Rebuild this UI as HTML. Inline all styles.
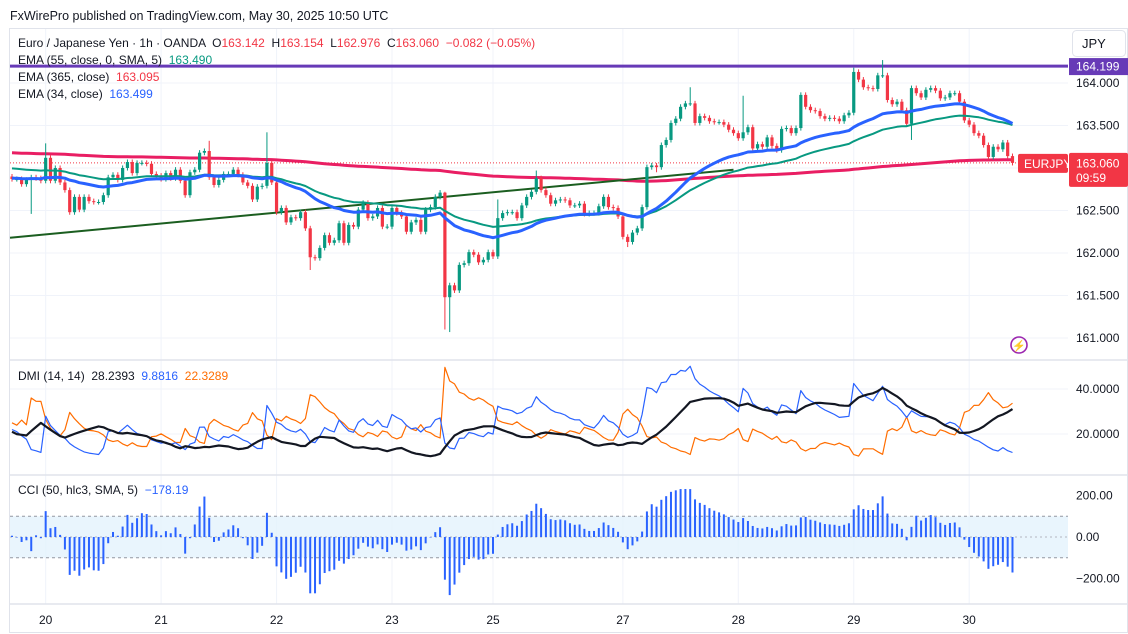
<!DOCTYPE html>
<html><head><meta charset="utf-8">
<style>
html,body{margin:0;padding:0;background:#fff;}
svg{display:block;font-family:"Liberation Sans",Arial,sans-serif;}
text{white-space:pre;}
</style></head>
<body>
<svg id="chart" width="1128" height="634" viewBox="0 0 1128 634" xmlns="http://www.w3.org/2000/svg" xml:space="preserve">
  <rect x="0" y="0" width="1128" height="634" fill="#ffffff"/>
  <text x="10" y="20" font-size="12.5" fill="#131722">FxWirePro published on TradingView.com, May 30, 2025 10:50 UTC</text>
  <rect x="9.5" y="28.5" width="1118" height="604" fill="none" stroke="#e0e3eb"/>
  <g id="grid"></g>
  <g id="main"></g>
  <g id="dmi"></g>
  <g id="cci"></g>
  <g id="axes"></g>

  <g font-size="12">
    <text x="18" y="47" fill="#131722">Euro / Japanese Yen · 1h · OANDA  O<tspan fill="#f23645">163.142</tspan>  H<tspan fill="#f23645">163.154</tspan>  L<tspan fill="#f23645">162.976</tspan>  C<tspan fill="#f23645">163.060</tspan>  <tspan fill="#f23645">−0.082 (−0.05%)</tspan></text>
    <text x="18" y="64" fill="#131722">EMA (55, close, 0, SMA, 5)  <tspan fill="#089981">163.490</tspan></text>
    <text x="18" y="81" fill="#131722">EMA (365, close)  <tspan fill="#f23645">163.095</tspan></text>
    <text x="18" y="98" fill="#131722">EMA (34, close)  <tspan fill="#2962ff">163.499</tspan></text>
    <text x="18" y="380" fill="#131722">DMI (14, 14)  28.2393  <tspan fill="#2962ff">9.8816</tspan>  <tspan fill="#ff6d00">22.3289</tspan></text>
    <text x="18" y="494" fill="#131722">CCI (50, hlc3, SMA, 5)  <tspan fill="#2962ff">−178.19</tspan></text>
  </g>

  <g>
    <rect x="1072.5" y="30.5" width="53" height="26" rx="4" fill="#fff" stroke="#e0e3eb"/>
    <text x="1082" y="48" font-size="13" fill="#131722">JPY</text>
  </g>
  <g>
    <circle cx="1019" cy="345" r="8" fill="none" stroke="#9c27b0" stroke-width="1.6"/>
    <text x="1019" y="349.5" font-size="11" fill="#e91e63" text-anchor="middle">⚡</text>
  </g>
</svg>
<script>
const closes=[162.87,162.87,162.81,162.86,162.89,162.88,162.85,163.12,162.85,163.00,162.83,162.74,162.48,162.66,162.51,162.66,162.61,162.60,162.60,162.68,162.89,162.92,162.86,163.00,163.07,162.94,163.06,163.06,163.05,162.93,162.91,162.87,162.94,162.88,162.98,162.85,162.68,162.95,162.98,163.18,163.20,162.89,162.80,162.86,162.93,162.93,162.98,162.92,162.83,162.79,162.63,162.78,162.79,163.06,162.83,162.48,162.53,162.36,162.42,162.41,162.48,162.29,161.95,161.94,162.06,162.21,162.12,162.15,162.35,162.12,162.33,162.31,162.51,162.59,162.41,162.43,162.53,162.31,162.31,162.53,162.47,162.43,162.25,162.36,162.39,162.25,162.51,162.54,162.66,162.71,161.48,161.62,161.56,161.86,161.88,162.01,161.98,161.89,161.92,162.01,161.96,162.41,162.47,162.48,162.48,162.41,162.56,162.66,162.72,162.88,162.74,162.68,162.58,162.62,162.63,162.62,162.56,162.56,162.58,162.46,162.47,162.47,162.55,162.66,162.54,162.53,162.43,162.19,162.13,162.24,162.29,162.54,163.01,163.03,163.01,163.27,163.33,163.53,163.58,163.72,163.76,163.76,163.53,163.61,163.59,163.55,163.54,163.54,163.51,163.45,163.41,163.35,163.42,163.48,163.23,163.28,163.25,163.36,163.26,163.21,163.46,163.47,163.41,163.47,163.86,163.72,163.68,163.67,163.61,163.58,163.59,163.58,163.55,163.62,163.65,164.13,164.04,163.95,163.94,163.93,164.09,164.09,163.80,163.75,163.78,163.68,163.52,163.94,163.88,163.83,163.92,163.94,163.91,163.82,163.83,163.88,163.88,163.78,163.56,163.51,163.41,163.38,163.27,163.13,163.25,163.22,163.30,163.14,163.06];
const firstOpen=162.90;
const highMarks={7:163.29,41:163.32,53:163.42,90:162.72,101:162.63,109:162.97,141:163.95,152:163.85,175:164.18,181:164.27};
const lowMarks={4:162.46,62:161.80,90:161.10,91:161.07,128:162.07,134:162.95,187:163.33};
const wickSize=0.03;
const dayLabels=["20","21","22","23","25","27","28","29","30"];
const dayIndex=[7,31,55,79,100,127,151,175,199];
const priceTicks=[164.0,163.5,162.5,162.0,161.5,161.0];
const dmiTicks=[40,20];
const cciTicks=[200,0,-200];
const emaSeed34=162.88, emaSeed55=163.00, emaSeed365=163.18;
const cciLength=50;
const trendStart={i:0,p:162.18}, trendEnd={i:150,p:162.98};
const resistance=164.199, lastPrice=163.06;
const dmiSeed={tr:0.10,pdm:0.022,mdm:0.025,adx:21};

const NS="http://www.w3.org/2000/svg";
function mk(tag,attrs,parent){const e=document.createElementNS(NS,tag);for(const k in attrs)e.setAttribute(k,attrs[k]);parent.appendChild(e);return e;}
const X=i=>12+i*4.81;
const Y=p=>83+(164-p)*85;
const YD=v=>434-(v-20)*2.25;
const YC=v=>537-v*0.2075;

const n=closes.length;
const opens=closes.map((c,i)=>i===0?firstOpen:closes[i-1]);
const highs=closes.map((c,i)=>highMarks[i]!==undefined?highMarks[i]:Math.max(c,opens[i])+wickSize);
const lows=closes.map((c,i)=>lowMarks[i]!==undefined?lowMarks[i]:Math.min(c,opens[i])-wickSize);

const grid=document.getElementById('grid');
const main=document.getElementById('main');
const axes=document.getElementById('axes');

dayIndex.forEach(i=>{const l=mk('line',{x1:X(i),x2:X(i),y1:29,y2:604,stroke:'#f0f3fa'},grid);

});
priceTicks.concat([163.0]).forEach(p=>{const l=mk('line',{x1:10,x2:1068,y1:Y(p),y2:Y(p),stroke:'#f0f3fa'},grid);

});
dmiTicks.forEach(v=>{const l=mk('line',{x1:10,x2:1068,y1:YD(v),y2:YD(v),stroke:'#f0f3fa'},grid);

});
[[360,'panel-separator-dmi'],[475,'panel-separator-cci'],[604,'time-axis-border']].forEach(([y,nm])=>{const l=mk('line',{x1:10,x2:1128,y1:y,y2:y,stroke:'#e0e3eb','stroke-width':1.5},grid);

});

const res=mk('line',{x1:10,x2:1068,y1:Y(resistance),y2:Y(resistance),stroke:'#673ab7','stroke-width':3},main);


const lp=mk('line',{x1:10,x2:1068,y1:Y(lastPrice),y2:Y(lastPrice),stroke:'#f23645','stroke-width':1,'stroke-dasharray':'1 2'},main);



function ema(period,seed){const a=2/(period+1);let v=seed;return closes.map(c=>(v=v+a*(c-v)));}
const ema365=ema(365,emaSeed365), ema55=ema(55,emaSeed55), ema34=ema(34,emaSeed34);
function poly(vals,yf,color,w,name,parent){const d=vals.map((v,i)=>(i?'L':'M')+X(i).toFixed(1)+' '+yf(v).toFixed(1)).join(' ');
const p=mk('path',{d:d,fill:'none',stroke:color,'stroke-width':w,'stroke-linejoin':'round'},parent);

return p;}
poly(ema365,Y,'#e91e63',3,'ema-365-line',main);

const tl=mk('line',{x1:X(trendStart.i)-2,y1:Y(trendStart.p),x2:X(trendEnd.i),y2:Y(trendEnd.p),stroke:'#1b5e20','stroke-width':2},main);



for(let i=0;i<n;i++){
  const up=closes[i]>=opens[i];const col=up?'#089981':'#f23645';
  const g=mk('g',{},main);
  
  
  mk('line',{x1:X(i),x2:X(i),y1:Y(highs[i]),y2:Y(lows[i]),stroke:col,'stroke-width':1},g);
  const top=Y(Math.max(opens[i],closes[i])),bot=Y(Math.min(opens[i],closes[i]));
  mk('rect',{x:X(i)-1.6,y:top,width:3.2,height:Math.max(1,bot-top),fill:col},g);
}
poly(ema55,Y,'#089981',2,'ema-55-line',main);
poly(ema34,Y,'#2962ff',3,'ema-34-line',main);

const pdi=[],mdi=[],adx=[];
let rTR=dmiSeed.tr,rP=dmiSeed.pdm,rM=dmiSeed.mdm,rA=dmiSeed.adx;
for(let i=0;i<n;i++){
  if(i>0){const upm=highs[i]-highs[i-1],dnm=lows[i-1]-lows[i];
    const pdm=(upm>dnm&&upm>0)?upm:0,mdm=(dnm>upm&&dnm>0)?dnm:0;
    const tr=Math.max(highs[i]-lows[i],Math.abs(highs[i]-closes[i-1]),Math.abs(lows[i]-closes[i-1]));
    rTR+=(tr-rTR)/14;rP+=(pdm-rP)/14;rM+=(mdm-rM)/14;}
  const p=100*rP/rTR,m=100*rM/rTR;const dx=(p+m)?100*Math.abs(p-m)/(p+m):0;
  if(i>0)rA+=(dx-rA)/14;
  pdi.push(p);mdi.push(m);adx.push(rA);
}
const dmiG=document.getElementById('dmi');
const cp=mk('clipPath',{id:'dclip'},dmiG);
mk('rect',{x:10,y:361,width:1058,height:113},cp);
const dg=mk('g',{'clip-path':'url(#dclip)'},dmiG);
poly(mdi,YD,'#ff6d00',1.2,'minus-di-line',dg);
poly(pdi,YD,'#2962ff',1.2,'plus-di-line',dg);
poly(adx,YD,'#131722',2.2,'adx-line',dg);

const tp=closes.map((c,i)=>(highs[i]+lows[i]+c)/3);
const cci=tp.map((v,i)=>{const s=Math.max(0,i-cciLength+1),e=Math.max(i+1,cciLength);const w=tp.slice(s,e);
  const m=w.reduce((a,b)=>a+b,0)/w.length;const md=w.reduce((a,b)=>a+Math.abs(b-m),0)/w.length;return md?(v-m)/(0.015*md):0;});
const cciG=document.getElementById('cci');
const band=mk('rect',{x:10,y:YC(100),width:1058,height:YC(-100)-YC(100),fill:'#e3f2fd',opacity:0.8},cciG);


[100,-100].forEach(v=>{const l=mk('line',{x1:10,x2:1068,y1:YC(v),y2:YC(v),stroke:'#9598a1','stroke-dasharray':'3 3'},cciG);

});
const z=mk('line',{x1:10,x2:1068,y1:YC(0),y2:YC(0),stroke:'#b2b5be','stroke-dasharray':'2 3'},cciG);


cci.forEach((v,i)=>{const vv=Math.max(-280,Math.min(280,v));const y0=YC(0),y1=YC(vv);
  const b=mk('rect',{x:X(i)-1,y:Math.min(y0,y1),width:2,height:Math.max(0.5,Math.abs(y1-y0)),fill:'#2962ff'},cciG);
  
  });

function txt(x,y,s,attrs,name){const t=mk('text',Object.assign({x:x,y:y,'font-size':12,fill:'#131722'},attrs||{}),axes);t.textContent=s;

return t;}
priceTicks.forEach(p=>txt(1076,Y(p)+4,p.toFixed(3),{},'price-tick-label'));
dmiTicks.forEach(v=>txt(1076,YD(v)+4,v.toFixed(4),{},'dmi-tick-label'));
cciTicks.forEach(v=>txt(1076,YC(v)+4,(v<0?'−':'')+Math.abs(v).toFixed(2),{},'cci-tick-label'));
dayLabels.forEach((s,k)=>txt(X(dayIndex[k]),624,s,{'text-anchor':'middle'},'time-tick-label'));

const rt=mk('rect',{x:1069,y:Y(resistance)-8,width:59,height:17,fill:'#673ab7'},axes);


txt(1076,Y(resistance)+4.5,resistance.toFixed(3),{fill:'#fff'},'resistance-price-text');
const st=mk('rect',{x:1018,y:Y(lastPrice)-9,width:50,height:19,rx:2,fill:'#f23645'},axes);


txt(1024,Y(lastPrice)+5,'EURJPY',{fill:'#fff'},'symbol-tag-text');
const pt=mk('rect',{x:1069,y:Y(lastPrice)-10,width:59,height:34,rx:2,fill:'#f23645'},axes);


txt(1076,Y(lastPrice)+4.5,lastPrice.toFixed(3),{fill:'#fff'},'last-price-text');
txt(1076,Y(lastPrice)+19,'09:59',{fill:'#fff'},'countdown-text');
</script>
</body></html>
